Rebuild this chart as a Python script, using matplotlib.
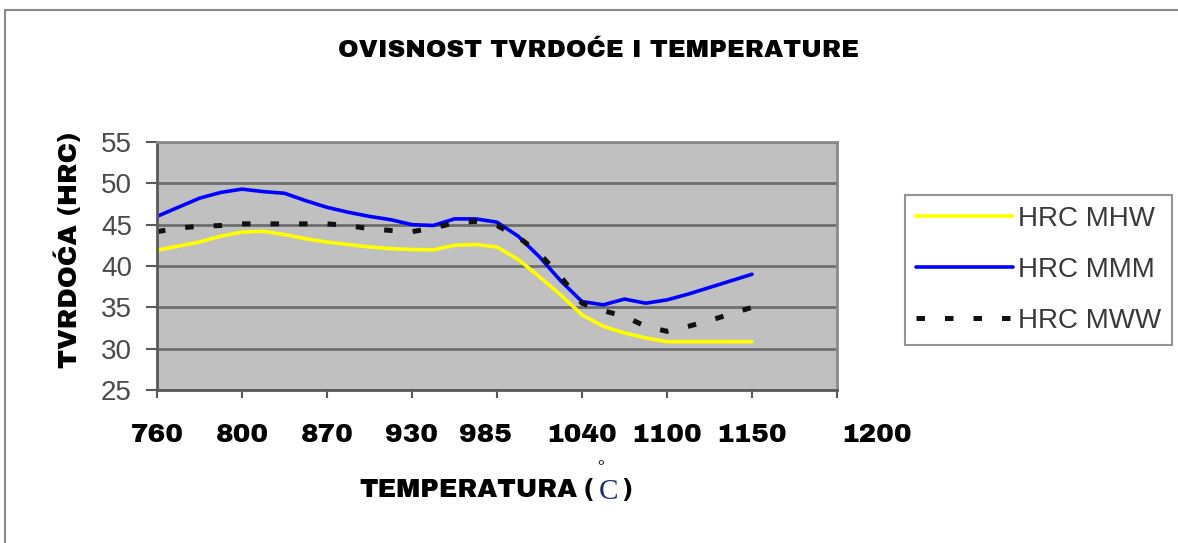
import matplotlib
matplotlib.use("Agg")
import matplotlib.pyplot as plt
import matplotlib.transforms as mtransforms
from matplotlib.patches import Rectangle

# ---- data ----
categories = ["760", "800", "870", "930", "985", "1040", "1100", "1150", "1200"]
# positions along the category axis (fractional category index) where values were read
x_pos = [0, 0.25, 0.5, 0.75, 1, 1.25, 1.5, 1.75, 2, 2.25, 2.5, 2.75, 3, 3.25, 3.5,
         3.75, 4, 4.25, 4.5, 4.75, 5, 5.25, 5.5, 5.75, 6, 6.25, 6.5, 6.75, 7]
hrc_mhw = [41.9, 42.4, 42.9, 43.6, 44.1, 44.2, 43.8, 43.3, 42.9, 42.6, 42.3, 42.1, 42.0, 41.95, 42.5,
           42.6, 42.3, 40.8, 38.7, 36.5, 34.1, 32.7, 31.9, 31.3, 30.85, 30.85, 30.85, 30.85, 30.85]
hrc_mmm = [46.0, 47.1, 48.2, 48.9, 49.3, 49.0, 48.8, 47.9, 47.1, 46.5, 46.0, 45.6, 45.0, 44.9, 45.7,
           45.7, 45.3, 43.6, 41.1, 38.2, 35.7, 35.3, 36.0, 35.5, 35.9, 36.6, 37.4, 38.2, 39.0]
hrc_mww = [44.15, 44.6, 44.8, 44.9, 45.1, 45.1, 45.1, 45.1, 45.1, 44.9, 44.5, 44.3, 44.15, 44.6, 45.2,
           45.4, 44.9, 43.5, 41.5, 38.7, 35.5, 34.6, 33.9, 32.7, 32.1, 32.7, 33.4, 34.2, 35.0]
y_ticks = [25, 30, 35, 40, 45, 50, 55]
series_labels = ["HRC MHW", "HRC MMM", "HRC MWW"]

W, H = 1178, 543
fig = plt.figure(figsize=(W / 100, H / 100), dpi=100)
fig.patch.set_facecolor("white")

# outer chart border
fig.patches.append(Rectangle((5 / W, -0.1), 1.2, 1 - 10 / H + 0.1, transform=fig.transFigure,
                             fill=False, edgecolor="#8a8a8a", linewidth=1.5))

ax = fig.add_axes([157 / W, 1 - 390 / H, 680 / W, 248 / H])
ax.set_facecolor("#c0c0c0")
ax.set_xlim(0, len(categories) - 1)
ax.set_ylim(25, 55)
ax.set_yticks(y_ticks)
ax.set_xticks(range(len(categories)))
ax.grid(axis="y", color="#6e6e6e", linewidth=2.0)
ax.set_axisbelow(True)

for side in ["top", "right"]:
    ax.spines[side].set_color("#8a8a8a")
    ax.spines[side].set_linewidth(2.0)
for side in ["left", "bottom"]:
    ax.spines[side].set_color("#5a5a5a")
    ax.spines[side].set_linewidth(2.0)

ax.plot(x_pos, hrc_mhw, color="#ffff00", linewidth=2.6, label=series_labels[0],
        solid_capstyle="round", solid_joinstyle="round")
ax.plot(x_pos, hrc_mmm, color="#0000ff", linewidth=2.6, label=series_labels[1],
        solid_capstyle="round", solid_joinstyle="round")
ax.plot(x_pos, hrc_mww, color="#111111", linewidth=3.6, linestyle=(0, (1.7, 4.0)),
        label=series_labels[2])

heavy = dict(family=["Archivo Black", "DejaVu Sans"])
ax.tick_params(axis="y", direction="out", length=8, width=1.5, color="#5a5a5a",
               pad=10, labelsize=20, labelcolor="#4a4a4a")
ax.tick_params(axis="x", direction="out", length=6, width=1.5, color="#5a5a5a", pad=18)
ax.set_yticklabels([str(v) for v in y_ticks], family="Liberation Sans")
ax.set_xticklabels(categories, fontsize=19, color="black", **heavy)

# nudge labels slightly as in reference
offsets = {4: -12, 8: 40}
for i, lab in enumerate(ax.get_xticklabels()):
    if i in offsets:
        lab.set_transform(lab.get_transform() +
                          mtransforms.ScaledTranslation(offsets[i] / 100, 0, fig.dpi_scale_trans))

fig.text(599 / W, 1 - 51 / H, "OVISNOST TVRDOĆE I TEMPERATURE", ha="center", va="center",
         fontsize=17.8, color="black", **heavy)
fig.text(68 / W, 1 - 250 / H, "TVRDOĆA (HRC)", ha="center", va="center", rotation=90,
         fontsize=19, color="black", **heavy)
fig.text(577 / W, 1 - 490 / H, "TEMPERATURA", ha="right", va="center",
         fontsize=18.5, color="black", **heavy)
fig.text(584 / W, 1 - 490 / H, "(", ha="left", va="center",
         fontsize=18, color="black", **heavy)
fig.text(599 / W, 1 - 492 / H, "C", ha="left", va="center", fontsize=21,
         family="Liberation Serif", color="#1c2a6e")
fig.text(597 / W, 1 - 467 / H, "°", ha="left", va="center", fontsize=12,
         family="Liberation Serif", color="black")
fig.text(622 / W, 1 - 490 / H, ")", ha="left", va="center",
         fontsize=18, color="black", **heavy)

leg = fig.legend(loc="upper left", bbox_to_anchor=(905 / W, 1 - 195 / H),
                 bbox_transform=fig.transFigure, frameon=True, fancybox=False,
                 handlelength=3.5, handletextpad=0.15, labelspacing=0.9,
                 borderpad=0.4, borderaxespad=0,
                 prop=dict(family="Liberation Sans", size=20))
leg.get_frame().set_edgecolor("#7a7a7a")
leg.get_frame().set_linewidth(1.5)
for t in leg.get_texts():
    t.set_color("#3a3a3a")

fig.savefig("out.png", dpi=100)
